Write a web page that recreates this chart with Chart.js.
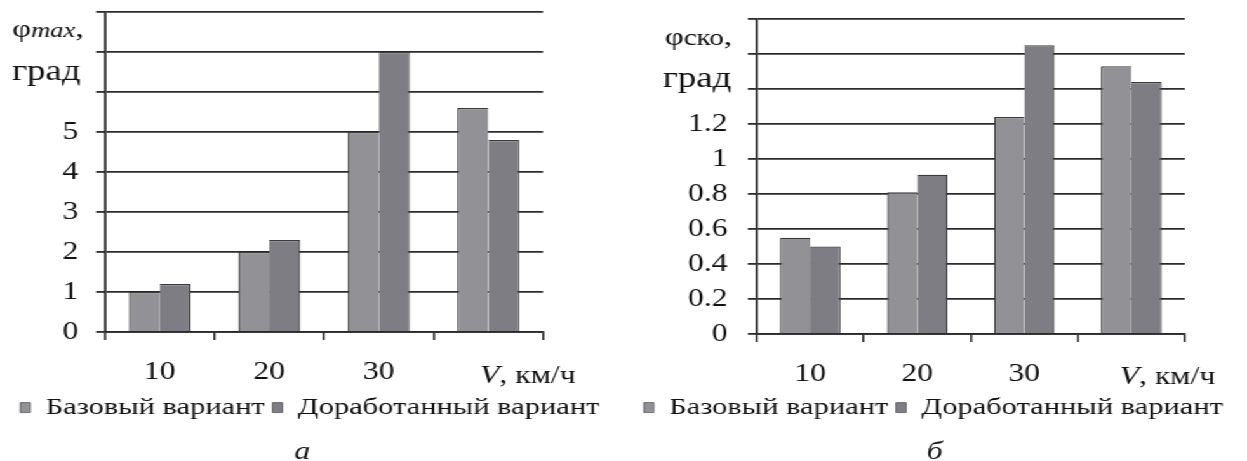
<!DOCTYPE html>
<html>
<head>
<meta charset="utf-8">
<script src="https://cdn.jsdelivr.net/npm/chart.js@4"></script>
<style>
  html, body { margin: 0; padding: 0; background: #fff; }
  /* the source figure is stretched sideways, so the whole row is scaled in x */
  #wrap { width: 982px; height: 461px; display: flex; transform: scaleX(1.2699); transform-origin: 0 0; }
  canvas { display: block; }
</style>
</head>
<body>
<div id="wrap">
  <canvas id="chartMax" width="488" height="461"></canvas>
  <canvas id="chartRms" width="494" height="461"></canvas>
</div>
<script>
const speedLabels = ["10", "20", "30", ""];
const seriesNames = ["Базовый вариант", "Доработанный вариант"];

// a) phi max, deg
const phiMaxBase = [1.0, 2.0, 5.0, 5.6];
const phiMaxMod = [1.2, 2.3, 7.0, 4.8];
// б) phi rms, deg
const phiRmsBase = [0.55, 0.81, 1.24, 1.53];
const phiRmsMod = [0.5, 0.91, 1.65, 1.44];

const fontFamily = '"Liberation Serif", "Times New Roman", serif';
const textColor = "#111";
const lineColor = "#2b2b2b";
const baseColor = "#919196";
const modColor = "#7d7d83";
const edgeColor = "#3a3a3a";

const axisText = {
  id: "axisText",
  afterDraw(chart, args, o) {
    const ctx = chart.ctx;
    ctx.save();
    ctx.fillStyle = textColor;
    ctx.textBaseline = "alphabetic";
    ctx.textAlign = "left";

    // y title: symbol with index, then unit
    let x = o.symX;
    ctx.font = "26px " + fontFamily;
    ctx.fillText("φ", x, o.symY);
    x += ctx.measureText("φ").width;
    ctx.font = o.indexFont + fontFamily;
    ctx.fillText(o.index, x, o.symY);
    x += ctx.measureText(o.index).width;
    ctx.font = "26px " + fontFamily;
    ctx.fillText(",", x, o.symY);

    ctx.font = "29px " + fontFamily;
    ctx.fillText("град", o.unitX, o.unitY);

    // x title
    x = o.vX;
    ctx.font = "italic 25px " + fontFamily;
    ctx.fillText("V", x, o.vY);
    x += ctx.measureText("V").width;
    ctx.font = "25px " + fontFamily;
    ctx.fillText(", км/ч", x, o.vY);

    // panel letter
    ctx.textAlign = "center";
    ctx.font = "italic 25px " + fontFamily;
    ctx.fillText(o.letter, o.letterX, o.letterY);
    ctx.restore();
  }
};

function makeChart(id, c) {
  return new Chart(document.getElementById(id), {
    type: "bar",
    data: {
      labels: speedLabels,
      datasets: [
        { label: seriesNames[0], data: c.base, backgroundColor: baseColor, borderColor: edgeColor,
          borderWidth: { left: 1.2, top: 1.2, right: 0, bottom: 0 } },
        { label: seriesNames[1], data: c.mod, backgroundColor: modColor, borderColor: edgeColor,
          borderWidth: { left: 0, top: 1.2, right: 1.2, bottom: 0 } }
      ]
    },
    options: {
      responsive: false,
      animation: false,
      events: [],
      categoryPercentage: 0.565,
      barPercentage: 1,
      layout: { padding: { left: 0, right: 0, top: c.padTop, bottom: 31.4 } },
      scales: {
        x: {
          grid: { drawOnChartArea: false, tickLength: 8, color: lineColor, lineWidth: 1.6 },
          border: { color: lineColor, width: 1.8 },
          ticks: { font: { family: fontFamily, size: 25, lineHeight: 1 }, color: textColor, padding: 20, maxRotation: 0 },
          afterFit(scale) {
            scale.height = c.xHeight;
            scale.paddingLeft = 0;
            scale.paddingRight = 0;
          }
        },
        y: {
          min: 0,
          max: c.max,
          ticks: {
            stepSize: c.step,
            font: { family: fontFamily, size: 25, lineHeight: 1 },
            color: textColor,
            padding: c.tickPad,
            callback: v => (v > c.lastLabel + 1e-9 ? "" : String(Number(v.toFixed(1))))
          },
          grid: { color: lineColor, lineWidth: 1.8, tickLength: 7 },
          border: { color: lineColor, width: 1.8 },
          afterFit(scale) {
            scale.width = c.yWidth;
            scale.paddingTop = 0;
            scale.paddingBottom = 0;
          }
        },
        // empty right-hand box that keeps the gap after the last category
        gap: {
          type: "linear",
          position: "right",
          grid: { display: false },
          ticks: { display: false },
          border: { display: false },
          afterFit(scale) {
            scale.width = c.padRight;
            scale.paddingTop = 0;
            scale.paddingBottom = 0;
          }
        }
      },
      plugins: {
        tooltip: { enabled: false },
        legend: {
          position: "bottom",
          labels: { font: { family: fontFamily, size: 24 }, color: textColor, boxWidth: 8, boxHeight: 10, padding: 6 }
        },
        axisText: c.text
      }
    },
    plugins: [axisText]
  });
}

makeChart("chartMax", {
  base: phiMaxBase, mod: phiMaxMod, max: 8, step: 1, lastLabel: 5,
  yWidth: 82.7, padRight: 60.4, padTop: 12, xHeight: 57.6, tickPad: 14,
  text: { symX: 9.4, symY: 37, index: "max", indexFont: "italic 21px ",
          unitX: 9.4, unitY: 80, vX: 378, vY: 383, letter: "а", letterX: 238, letterY: 459 }
});

makeChart("chartRms", {
  base: phiRmsBase, mod: phiRmsMod, max: 1.8, step: 0.2, lastLabel: 1.2,
  yWidth: 107.9, padRight: 49, padTop: 19, xHeight: 55.6, tickPad: 16,
  text: { symX: 35.4, symY: 45, index: "ско", indexFont: "23px ",
          unitX: 33.9, unitY: 87, vX: 393.7, vY: 384, letter: "б", letterX: 248, letterY: 459 }
});
</script>
</body>
</html>
